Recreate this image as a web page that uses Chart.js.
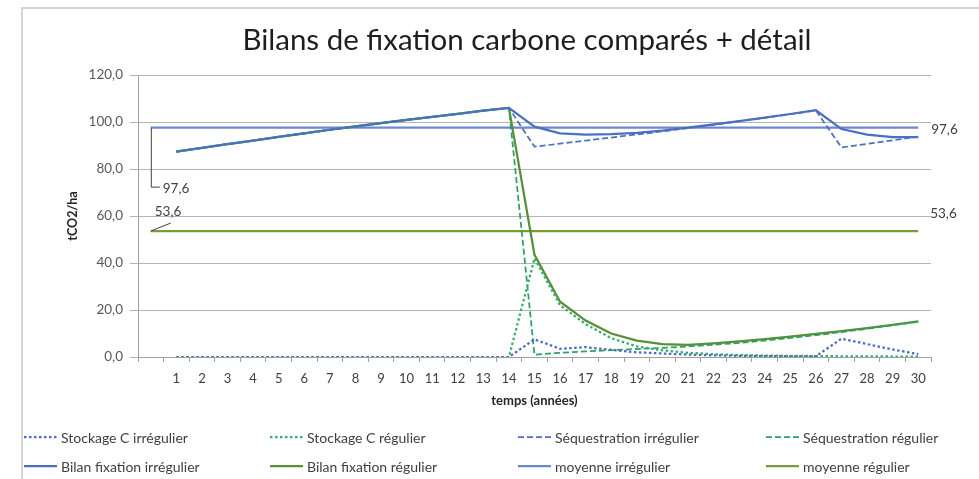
<!DOCTYPE html>
<html lang="fr">
<head>
<meta charset="UTF-8">
<title>Bilans de fixation carbone comparés + détail</title>
<script src="https://cdn.jsdelivr.net/npm/chart.js"></script>
<style>
  body { margin: 0; background: #fff; }
  #cadre { position: relative; width: 979px; height: 479px; }
</style>
</head>
<body>
<div id="cadre"><canvas id="graphique"></canvas></div>
<script>
// catégories : une case vide avant l'année 1 (départ des moyennes)
const annees = ['', '1', '2', '3', '4', '5', '6', '7', '8', '9', '10', '11', '12', '13', '14', '15',
  '16', '17', '18', '19', '20', '21', '22', '23', '24', '25', '26', '27', '28', '29', '30'];

// valeurs en tCO2/ha, années 1 à 30
const stockageIrregulier = [0, 0, 0, 0, 0, 0, 0, 0, 0, 0, 0, 0, 0, 0,
  7.5, 3.5, 4.2, 3.0, 2.0, 1.5, 1.0, 0.7, 0.5, 0.4, 0.3, 0.3, 7.8, 5.5, 3.2, 1.2];
const stockageRegulier = [0, 0, 0, 0, 0, 0, 0, 0, 0, 0, 0, 0, 0, 0,
  42.0, 22.0, 14.0, 8.0, 4.5, 2.8, 1.8, 1.2, 0.8, 0.6, 0.5, 0.4, 0.3, 0.3, 0.2, 0.2];
const sequestrationIrregulier = [87.4, 89.0, 90.6, 92.1, 93.7, 95.2, 96.7, 98.1, 99.5, 100.9, 102.2, 103.5, 104.8, 106.0,
  89.5, 90.8, 92.1, 93.4, 94.7, 96.0, 97.4, 98.8, 100.3, 101.8, 103.3, 104.9, 89.2, 90.7, 92.2, 93.8];
const sequestrationRegulier = [87.4, 89.0, 90.6, 92.1, 93.7, 95.2, 96.7, 98.1, 99.5, 100.9, 102.2, 103.5, 104.8, 106.0,
  1.0, 1.8, 2.4, 2.9, 3.4, 3.9, 4.5, 5.2, 6.0, 7.0, 8.1, 9.3, 10.6, 12.0, 13.5, 15.0];
const bilanIrregulier = [87.4, 89.0, 90.6, 92.1, 93.7, 95.2, 96.7, 98.1, 99.5, 100.9, 102.2, 103.5, 104.8, 106.0,
  98.0, 95.2, 94.6, 94.8, 95.4, 96.3, 97.6, 99.0, 100.4, 101.9, 103.4, 105.0, 97.0, 94.6, 93.6, 93.6];
const bilanRegulier = [87.4, 89.0, 90.6, 92.1, 93.7, 95.2, 96.7, 98.1, 99.5, 100.9, 102.2, 103.5, 104.8, 106.0,
  43.5, 23.5, 15.5, 10.0, 7.0, 5.5, 5.2, 5.8, 6.6, 7.6, 8.7, 9.8, 11.0, 12.3, 13.7, 15.2];
const moyenneIrregulier = 97.6;
const moyenneRegulier = 53.6;

const graduationsY = [0, 20, 40, 60, 80, 100, 120];

const police = "Lato, 'Open Sans', sans-serif";

function serie(label, valeurs, couleur, tirets, largeur) {
  return {
    label: label,
    data: [null].concat(valeurs),
    borderColor: couleur,
    backgroundColor: couleur,
    borderDash: tirets,
    borderWidth: largeur,
    pointRadius: 0,
    tension: 0,
    spanGaps: false
  };
}

function moyenne(label, valeur, couleur) {
  return {
    label: label,
    data: [{ x: annees[0], y: valeur }, { x: annees[annees.length - 1], y: valeur }],
    borderColor: couleur,
    backgroundColor: couleur,
    borderDash: [],
    borderWidth: 2.25,
    pointRadius: 0,
    etiquette: valeur
  };
}

const pointille = [2.5, 2.5];
const tirete = [6, 3];

const datasets = [
  serie('Stockage C irrégulier', stockageIrregulier, '#4a6cc0', pointille, 2.25),
  serie('Stockage C régulier', stockageRegulier, '#35b06a', pointille, 2.25),
  serie('Séquestration irrégulier', sequestrationIrregulier, '#4d6fbd', tirete, 1.75),
  serie('Séquestration régulier', sequestrationRegulier, '#2fa062', tirete, 1.75),
  serie('Bilan fixation irrégulier', bilanIrregulier, '#4a70c2', [], 2.25),
  serie('Bilan fixation régulier', bilanRegulier, '#5b8d3a', [], 2.25),
  moyenne('moyenne irrégulier', moyenneIrregulier, '#6d86d0'),
  moyenne('moyenne régulier', moyenneRegulier, '#789c3a')
];

const virgule = v => v.toFixed(1).replace('.', ',');

// cadre, titre, étiquettes des moyennes et légende en deux lignes
const decor = {
  id: 'decor',
  beforeDraw(chart) {
    const ctx = chart.ctx;
    ctx.save();
    ctx.strokeStyle = '#d4d4d4';
    ctx.lineWidth = 2;
    ctx.beginPath();
    ctx.moveTo(22, 479);
    ctx.lineTo(22, 8);
    ctx.lineTo(979, 8);
    ctx.stroke();
    ctx.restore();
  },
  afterDraw(chart) {
    const ctx = chart.ctx;
    ctx.save();

    ctx.fillStyle = '#1e1e1e';
    ctx.font = '29.5px ' + police;
    ctx.textAlign = 'center';
    ctx.textBaseline = 'middle';
    ctx.fillText('Bilans de fixation carbone comparés + détail', 527, 40);

    // étiquettes de début et fin des moyennes
    ctx.font = '13.5px ' + police;
    ctx.fillStyle = '#404040';
    ctx.textAlign = 'left';
    ctx.strokeStyle = '#404040';
    ctx.lineWidth = 1;
    chart.data.datasets.forEach((ds, i) => {
      if (ds.etiquette === undefined) return;
      const pts = chart.getDatasetMeta(i).data;
      const p0 = pts[0], p1 = pts[pts.length - 1];
      const txt = virgule(ds.etiquette);
      ctx.beginPath();
      if (ds.etiquette > 80) {
        ctx.moveTo(p0.x + 0.5, p0.y);
        ctx.lineTo(p0.x + 0.5, p0.y + 59.5);
        ctx.lineTo(p0.x + 9, p0.y + 59.5);
        ctx.stroke();
        ctx.fillText(txt, p0.x + 12, p0.y + 61);
        ctx.fillText(txt, p1.x + 13, p1.y + 2);
      } else {
        ctx.moveTo(p0.x, p0.y);
        ctx.lineTo(p0.x + 20, p0.y - 8);
        ctx.stroke();
        ctx.fillText(txt, p0.x + 4, p0.y - 19);
        ctx.fillText(txt, p1.x + 12, p1.y - 17);
      }
    });

    // légende
    const colonnes = [24, 270, 518, 766];
    const lignes = [437, 466];
    ctx.font = '14px ' + police;
    chart.data.datasets.forEach((ds, i) => {
      const x = colonnes[i % 4];
      const y = lignes[Math.floor(i / 4)];
      ctx.strokeStyle = ds.borderColor;
      ctx.lineWidth = ds.borderWidth;
      ctx.setLineDash(ds.borderDash);
      ctx.beginPath();
      ctx.moveTo(x, y);
      ctx.lineTo(x + 33, y);
      ctx.stroke();
      ctx.setLineDash([]);
      ctx.fillStyle = '#404040';
      ctx.fillText(ds.label, x + 37, y + 1);
    });
    ctx.restore();
  }
};

new Chart(document.getElementById('graphique'), {
  type: 'line',
  data: { labels: annees, datasets: datasets },
  options: {
    responsive: true,
    maintainAspectRatio: false,
    animation: false,
    layout: { padding: { top: 75, left: 65, right: 48, bottom: 67 } },
    plugins: {
      legend: { display: false },
      title: { display: false },
      tooltip: { enabled: false }
    },
    scales: {
      x: {
        offset: true,
        afterFit: s => { s.height = 55; },
        grid: { offset: true, drawOnChartArea: false, drawTicks: true, tickLength: 5, color: '#a0a0a0' },
        border: { color: '#a0a0a0', width: 1 },
        ticks: { color: '#404040', font: { family: police, size: 13 }, padding: 9, maxRotation: 0, autoSkip: false },
        title: { display: true, text: 'temps (années)', color: '#262626', font: { family: police, size: 13, weight: 'bold' }, padding: 3 }
      },
      y: {
        min: 0,
        max: 120,
        afterFit: s => { s.width = 73; },
        afterBuildTicks: s => { s.ticks = graduationsY.map(v => ({ value: v })); },
        grid: { color: '#b4b4b4', tickLength: 8, drawTicks: true },
        border: { color: '#a0a0a0', width: 1 },
        ticks: { color: '#595959', font: { family: police, size: 13.5 }, padding: 7, callback: v => virgule(v) },
        title: { display: true, text: 'tCO2/ha', color: '#262626', font: { family: police, size: 12.5, weight: 'bold' }, padding: 0 }
      }
    }
  },
  plugins: [decor]
});
</script>
</body>
</html>
